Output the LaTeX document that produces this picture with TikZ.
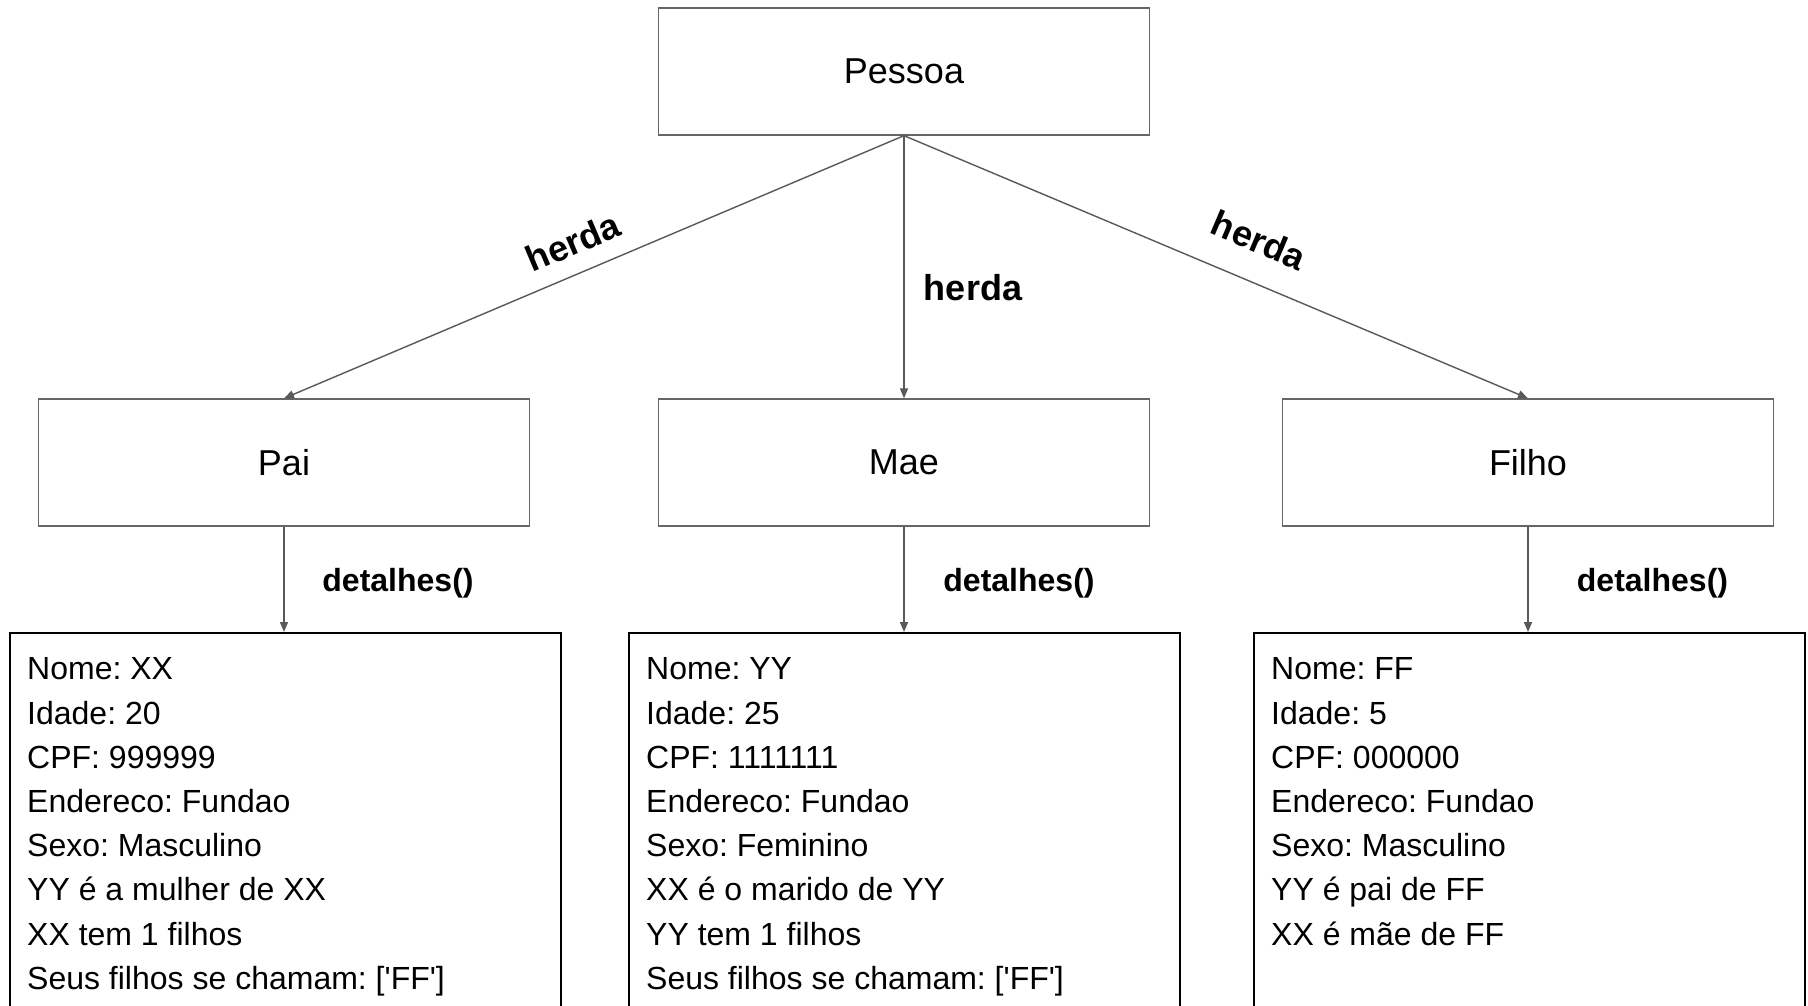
\documentclass[tikz,border=0pt]{standalone}
\usepackage{fontspec}
\setmainfont{Liberation Sans}
\usetikzlibrary{arrows.meta}
\definecolor{edgegray}{HTML}{595959}
\definecolor{boxgray}{HTML}{666666}
\frenchspacing
\newcommand{\sq}{\textquotesingle}

\begin{document}
\begin{tikzpicture}[x=1pt,y=-1pt,
  classbox/.style={draw=boxgray, line width=1.3pt, minimum width=491pt, minimum height=127pt,
    inner sep=0pt, font=\fontsize{36}{43}\selectfont},
  detailbox/.style={draw=black, line width=1.5pt, minimum width=551pt, minimum height=420pt,
    anchor=north west, inner sep=0pt},
  detailtext/.style={anchor=north west, align=left, inner sep=0pt,
    font=\fontsize{32}{44.2}\selectfont, xshift=18pt, yshift=-25.6pt},
  inherit/.style={draw=edgegray, line width=1.4pt, -{Triangle[length=10pt,width=8pt]}},
  rel/.style={inner sep=0pt, font=\bfseries\fontsize{36}{43}\selectfont},
  call/.style={inner sep=0pt, font=\bfseries\fontsize{32}{38}\selectfont}
]
% page frame
\useasboundingbox (0,0) rectangle (1808,1006);
\fill[white] (0,0) rectangle (1808,1006);
\clip (0,0) rectangle (1808,1006);

% class boxes
\node[classbox] (pessoa) at (904,71.5) {Pessoa};
\node[classbox] (pai)    at (284,462.5) {Pai};
\node[classbox] (mae)    at (904,462.5) {Mae};
\node[classbox] (filho)  at (1528,462.5) {Filho};

% inheritance edges
\draw[inherit] (pessoa.south) -- (pai.north);
\draw[inherit] (pessoa.south) -- (mae.north);
\draw[inherit] (pessoa.south) -- (filho.north);
\node[rel, rotate=23]  (herdaL) at (573,242) {herda};
\node[rel]             (herdaM) at (973,288) {herda};
\node[rel, rotate=-23] (herdaR) at (1259,240) {herda};

% output boxes (open at the bottom edge of the page)
\node[detailbox] (paidet)   at (9,632)    {};
\node[detailbox] (maedet)   at (628,632)  {};
\node[detailbox] (filhodet) at (1253,632) {};

\node[detailtext] (paitxt) at (paidet.north west) {Nome: XX\\Idade: 20\\CPF: 999999\\Endereco: Fundao\\Sexo: Masculino\\YY é a mulher de XX\\XX tem 1 filhos\\Seus filhos se chamam: [\sq FF\sq]};
\node[detailtext] (maetxt) at (maedet.north west) {Nome: YY\\Idade: 25\\CPF: 1111111\\Endereco: Fundao\\Sexo: Feminino\\XX é o marido de YY\\YY tem 1 filhos\\Seus filhos se chamam: [\sq FF\sq]};
\node[detailtext] (filhotxt) at (filhodet.north west) {Nome: FF\\Idade: 5\\CPF: 000000\\Endereco: Fundao\\Sexo: Masculino\\YY é pai de FF\\XX é mãe de FF};

% method calls
\draw[inherit] (pai.south)   -- (pai.south |- paidet.north);
\draw[inherit] (mae.south)   -- (mae.south |- maedet.north);
\draw[inherit] (filho.south) -- (filho.south |- filhodet.north);
\node[call] (callP) at (398,583)    {detalhes()};
\node[call] (callM) at (1019,583)   {detalhes()};
\node[call] (callF) at (1652.5,583) {detalhes()};
\end{tikzpicture}
\end{document}
